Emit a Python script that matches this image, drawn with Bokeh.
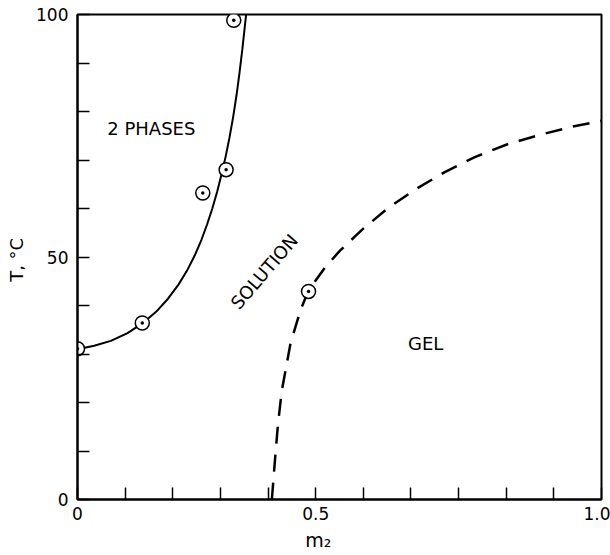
from bokeh.plotting import figure
from bokeh.models import Range1d, FixedTicker, Label
from bokeh.embed import file_html
from bokeh.resources import INLINE

# ---- data ----
# measured points (m2, T in deg C)
pts_m2 = [0.0, 0.136, 0.263, 0.312, 0.328, 0.485]
pts_T = [31.1, 36.4, 63.2, 68.0, 98.8, 42.9]

# solid boundary (2 phases / solution)
solid_m2 = [0.000, 0.035, 0.070, 0.105, 0.136, 0.165, 0.190, 0.212, 0.230, 0.246, 0.260,
            0.272, 0.283, 0.293, 0.302, 0.311, 0.319, 0.327, 0.334, 0.340, 0.346, 0.351, 0.354]
solid_T = [31.0, 31.7, 32.7, 34.3, 36.3, 38.7, 41.4, 44.3, 47.2, 50.3, 53.5,
           56.7, 60.0, 63.4, 66.9, 70.7, 74.6, 79.0, 83.5, 87.9, 92.8, 97.3, 100.0]

# dashed boundary (solution / gel)
dash_m2 = [0.408, 0.415, 0.421, 0.429, 0.447, 0.468, 0.485, 0.520, 0.551, 0.597, 0.653,
           0.712, 0.771, 0.834, 0.904, 0.971, 1.040, 1.100]
dash_T = [0.0, 8.7, 15.7, 22.5, 32.1, 39.0, 43.1, 47.9, 51.3, 55.6, 60.2,
          64.1, 67.5, 70.6, 73.3, 75.2, 76.9, 78.1]

x_ticks = [0.0, 0.1, 0.2, 0.3, 0.4, 0.5, 0.6, 0.7, 0.8, 0.9, 1.0, 1.1]
x_tick_labels = ["0", "", "", "", "", "0.5", "", "", "", "", "", "1.0"]
y_ticks = [0, 10, 20, 30, 40, 50, 60, 70, 80, 90, 100]
y_tick_labels = ["0", "", "", "", "", "50", "", "", "", "", "100"]

region_labels = ["2 PHASES", "SOLUTION", "GEL"]
region_m2 = [0.155, 0.392, 0.731]
region_T = [76.4, 47.0, 32.2]
region_angle = [0.0, 0.86, 0.0]

FONT = "DejaVu Sans"

p = figure(width=610, height=555, output_backend="svg", toolbar_location=None,
           x_range=Range1d(0, 1.1), y_range=Range1d(0, 100),
           min_border_left=77, min_border_right=9, min_border_top=14, min_border_bottom=56)
p.grid.visible = False
p.outline_line_color = "black"
p.outline_line_width = 2
p.background_fill_color = "white"
p.border_fill_color = "white"

for ax, ticks, labels in ((p.xaxis[0], x_ticks, x_tick_labels), (p.yaxis[0], y_ticks, y_tick_labels)):
    ax.ticker = FixedTicker(ticks=ticks)
    ax.major_label_overrides = {t: l for t, l in zip(ticks, labels)}
    ax.major_tick_in = 12
    ax.major_tick_out = 0
    ax.minor_tick_in = 0
    ax.minor_tick_out = 0
    ax.major_tick_line_width = 1.5
    ax.major_tick_line_color = "black"
    ax.axis_line_width = 2
    ax.axis_line_color = "black"
    ax.major_label_text_font = FONT
    ax.major_label_text_font_size = "17px"
    ax.major_label_text_color = "black"
    ax.axis_label_text_font = FONT
    ax.axis_label_text_font_size = "18px"
    ax.axis_label_text_font_style = "normal"
    ax.axis_label_text_color = "black"

# x title m2 (non-breaking spaces move it left of the frame centre, as in the original)
p.xaxis.axis_label = "m\u2082" + "\u00a0" * 7
p.xaxis.axis_label_text_font_size = "19px"
p.yaxis.axis_label = "T,  \u00b0C"
p.xaxis.major_label_standoff = 7
p.yaxis.major_label_standoff = 9
p.xaxis.axis_label_standoff = 6
p.yaxis.axis_label_standoff = 6

p.line(solid_m2, solid_T, line_color="black", line_width=2)
p.line(dash_m2, dash_T, line_color="black", line_width=2.5, line_dash="17 11")
p.scatter(pts_m2, pts_T, marker="circle_dot", size=14, fill_color="white",
          line_color="black", line_width=1.5)

for txt, xm, yt, ang in zip(region_labels, region_m2, region_T, region_angle):
    p.add_layout(Label(x=xm, y=yt, text=txt, angle=ang, text_align="center",
                       text_baseline="middle", text_font=FONT, text_font_size="18px",
                       text_color="black"))

open("out.html", "w").write(file_html(p, INLINE))
